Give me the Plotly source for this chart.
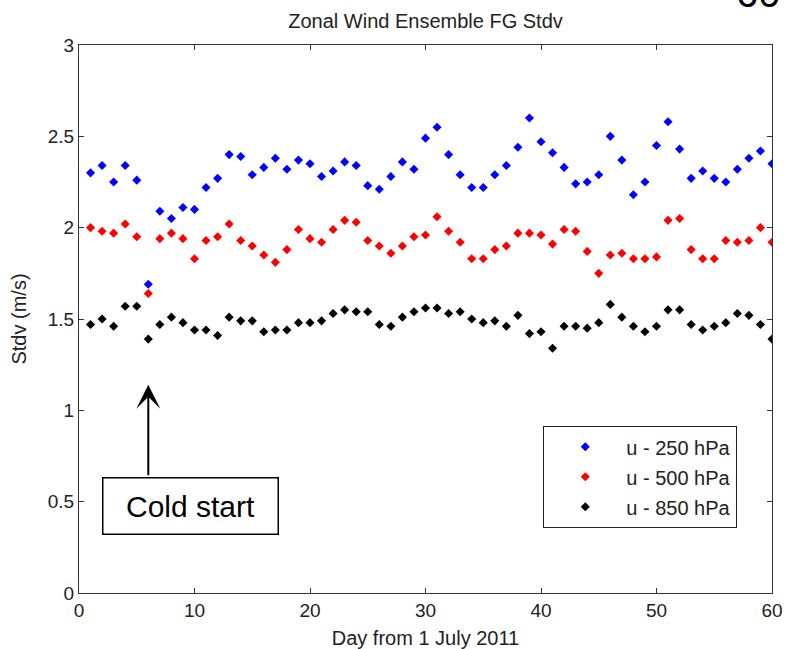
import plotly.graph_objects as go

days = list(range(1, 61))

u250 = [2.30, 2.34, 2.25, 2.34, 2.26, 1.69, 2.09, 2.05, 2.11, 2.10,
        2.22, 2.27, 2.40, 2.39, 2.29, 2.33, 2.38, 2.32, 2.37, 2.35,
        2.28, 2.31, 2.36, 2.34, 2.23, 2.21, 2.28, 2.36, 2.32, 2.49,
        2.55, 2.40, 2.29, 2.22, 2.22, 2.29, 2.34, 2.44, 2.60, 2.47,
        2.41, 2.33, 2.24, 2.25, 2.29, 2.50, 2.37, 2.18, 2.25, 2.45,
        2.58, 2.43, 2.27, 2.31, 2.27, 2.25, 2.32, 2.38, 2.42, 2.35]

u500 = [2.00, 1.98, 1.97, 2.02, 1.95, 1.64, 1.94, 1.97, 1.94, 1.83,
        1.93, 1.95, 2.02, 1.93, 1.90, 1.85, 1.81, 1.88, 1.99, 1.94,
        1.92, 1.99, 2.04, 2.03, 1.93, 1.90, 1.86, 1.90, 1.95, 1.96,
        2.06, 1.98, 1.92, 1.83, 1.83, 1.88, 1.90, 1.97, 1.97, 1.96,
        1.91, 1.99, 1.98, 1.87, 1.75, 1.85, 1.86, 1.83, 1.83, 1.84,
        2.04, 2.05, 1.88, 1.83, 1.83, 1.93, 1.92, 1.93, 2.00, 1.92]

u850 = [1.47, 1.50, 1.46, 1.57, 1.57, 1.39, 1.47, 1.51, 1.48, 1.44,
        1.44, 1.41, 1.51, 1.49, 1.49, 1.43, 1.44, 1.44, 1.48, 1.48,
        1.49, 1.53, 1.55, 1.54, 1.54, 1.47, 1.46, 1.51, 1.54, 1.56,
        1.56, 1.53, 1.54, 1.50, 1.48, 1.49, 1.46, 1.52, 1.42, 1.43,
        1.34, 1.46, 1.46, 1.45, 1.48, 1.58, 1.51, 1.46, 1.43, 1.46,
        1.55, 1.55, 1.47, 1.44, 1.46, 1.48, 1.53, 1.52, 1.47, 1.39]

series_names = ["u - 250 hPa", "u - 500 hPa", "u - 850 hPa"]
series_colors = ["#0000ff", "#ff0000", "#000000"]
series_values = [u250, u500, u850]

x_ticks = [0, 10, 20, 30, 40, 50, 60]
y_ticks = [0, 0.5, 1, 1.5, 2, 2.5, 3]
y_tick_labels = ["0", "0.5", "1", "1.5", "2", "2.5", "3"]

cold_start_day = 6
cold_start_arrow_tip = 1.14

FONT = "Liberation Sans, Arial, sans-serif"

W, H = 786, 649
ML, MR, MT, MB = 79, 14, 45, 56
PW, PH = W - ML - MR, H - MT - MB


def px_to_paper(px, py):
    """page pixel -> paper coords"""
    return ((px - ML) / PW, 1 - (py - MT) / PH)


fig = go.Figure()
for i, (name, col, vals) in enumerate(zip(series_names, series_colors, series_values)):
    fig.add_trace(go.Scatter(
        x=days, y=vals, mode="markers", name=name,
        legendgroup=f"g{i}",
        marker=dict(symbol="diamond", size=7, color=col, line=dict(width=0)),
    ))

axis_common = dict(
    showline=True, linecolor="#333333", linewidth=1.3, mirror="ticks",
    ticks="inside", ticklen=5, tickwidth=1.3, tickcolor="#333333",
    showgrid=False, zeroline=False, automargin=False,
    tickfont=dict(family=FONT, size=19, color="#222222"),
)

lx, ly = px_to_paper(543, 426)
fig.update_layout(
    width=W, height=H,
    margin=dict(l=ML, r=MR, t=MT, b=MB),
    paper_bgcolor="white", plot_bgcolor="white",
    showlegend=True,
    title=dict(text="Zonal Wind Ensemble FG Stdv", x=0.5, xref="paper",
               y=1 - 21 / H, yref="container", yanchor="middle",
               font=dict(family=FONT, size=20, color="#222222")),
    xaxis=dict(range=[0, 60], tickvals=x_ticks,
               title=dict(text="Day from 1 July 2011", standoff=13,
                          font=dict(family=FONT, size=20, color="#222222")),
               **axis_common),
    yaxis=dict(range=[0, 3], tickvals=y_ticks, ticktext=y_tick_labels,
               title=dict(text="Stdv (m/s)", standoff=15,
                          font=dict(family=FONT, size=20, color="#222222")),
               **axis_common),
    legend=dict(x=lx, y=ly, xanchor="left", yanchor="top",
                bordercolor="#222222", borderwidth=1.3, bgcolor="white",
                font=dict(family=FONT, size=20, color="#222222"),
                traceorder="grouped", tracegroupgap=1, itemwidth=72),
)

# arrow pointing at the cold-start day
fig.add_annotation(x=cold_start_day, y=cold_start_arrow_tip, xref="x", yref="y",
                   text="", showarrow=True, ax=0, ay=92,
                   arrowhead=3, arrowwidth=2, arrowsize=2, arrowcolor="#000000")
# label box
bx, by = px_to_paper(190, 505.5)
fig.add_annotation(x=bx, y=by, xref="paper", yref="paper",
                   text="Cold start", showarrow=False, xanchor="center", yanchor="middle",
                   width=172, height=53, borderpad=1,
                   bordercolor="#000000", borderwidth=1.5, bgcolor="white",
                   font=dict(family=FONT, size=30, color="#000000"))
# partially visible slide number (cut at the top edge as in the source)
sx, sy = px_to_paper(783, 17)
fig.add_annotation(x=sx, y=sy, xref="paper", yref="paper",
                   text="60", showarrow=False, xanchor="right", yanchor="bottom",
                   font=dict(family=FONT, size=40, color="#000000"))

fig.write_html(
    "out.html",
    config={"displayModeBar": False},
    post_script="document.body.style.margin='0';document.body.style.overflow='hidden';",
)
